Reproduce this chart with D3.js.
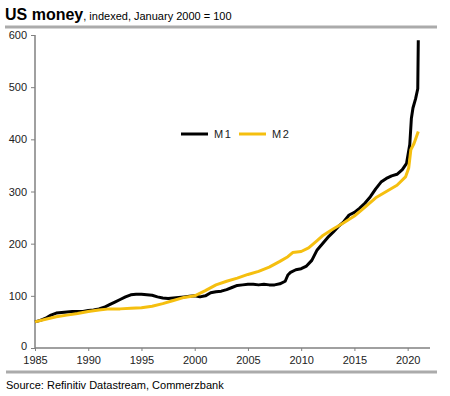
<!DOCTYPE html>
<html>
<head>
<meta charset="utf-8">
<script src="https://cdn.jsdelivr.net/npm/d3@7"></script>
<style>
body { margin: 0; background: #fff; font-family: "Liberation Sans", Arial, sans-serif; }
</style>
</head>
<body>
<div id="chart"></div>
<script>
// data (index, Jan 2000 = 100)
var m1_years = [1985, 1985.5, 1986, 1986.5, 1987, 1987.5, 1988, 1988.5, 1989, 1989.5,
    1990, 1990.5, 1991, 1991.5, 1992, 1992.5, 1993, 1993.5, 1994, 1994.5,
    1995, 1995.5, 1996, 1996.5, 1997, 1997.5, 1998, 1998.5, 1999, 1999.5,
    2000, 2000.5, 2001, 2001.5, 2002, 2002.5, 2003, 2003.5, 2004, 2004.5,
    2005, 2005.5, 2006, 2006.5, 2007, 2007.5, 2008, 2008.5, 2008.75, 2009, 2009.5,
    2010, 2010.5, 2011, 2011.5, 2012, 2012.5, 2013, 2013.5, 2014, 2014.5,
    2015, 2015.5, 2016, 2016.5, 2017, 2017.5, 2018, 2018.5, 2019, 2019.5,
    2019.9, 2020.2, 2020.35, 2020.5, 2020.75, 2020.95, 2021];
var m1_values = [50, 53, 57, 63, 67, 68, 69, 70, 70, 70,
    72, 73, 75, 78, 83, 88, 93, 98, 102, 103,
    103, 102, 101, 98, 96, 95, 96, 97, 98, 99,
    100, 98, 100, 106, 108, 109, 112, 116, 120, 121,
    122, 122, 121, 122, 121, 121, 123, 128, 140, 145, 150,
    152, 157, 168, 188, 200, 212, 222, 233, 242, 255,
    260, 268, 278, 290, 305, 318, 325, 330, 333, 342,
    354, 390, 440, 460, 478, 497, 590];

var m2_years = [1985, 1986, 1987, 1988, 1989, 1990, 1991, 1992, 1993, 1994,
    1995, 1996, 1997, 1998, 1999, 2000, 2001, 2002, 2003, 2004,
    2005, 2006, 2007, 2008, 2008.75, 2009.2, 2010, 2010.7, 2011.5, 2012,
    2013, 2014, 2015, 2016, 2017, 2018, 2019, 2019.8, 2020.1, 2020.3, 2020.6, 2021];
var m2_values = [50, 55, 60, 63, 66, 70, 73, 75, 75, 76,
    77, 80, 85, 91, 97, 100, 110, 121, 128, 134,
    141, 147, 155, 166, 175, 183, 185, 192, 206, 215,
    228, 240, 253, 270, 288, 300, 312, 328, 345, 380, 392, 415];

var x_ticks = [1985, 1990, 1995, 2000, 2005, 2010, 2015, 2020];
var y_ticks = [0, 100, 200, 300, 400, 500, 600];

const W = 450, H = 396;
var svg, xScale, yScale;

function setup() {
    svg = d3.select("#chart").append("svg")
        .attr("width", W)
        .attr("height", H);

    // title + subtitle
    var t = svg.append("text").attr("x", 5).attr("y", 20);
    t.append("tspan").attr("font-size", 16).attr("font-weight", "bold").text("US money");
    t.append("tspan").attr("font-size", 11).text(", indexed, January 2000 = 100");

    svg.append("line")
        .attr("x1", 5).attr("x2", 437).attr("y1", 27).attr("y2", 27)
        .style("stroke", "#ababab").style("stroke-width", 3);
    svg.append("line")
        .attr("x1", 6).attr("x2", 437).attr("y1", 372).attr("y2", 372)
        .style("stroke", "#ababab").style("stroke-width", 3);

    svg.append("text")
        .attr("x", 6).attr("y", 389)
        .attr("font-size", 11)
        .text("Source: Refinitiv Datastream, Commerzbank");
}

function build_axes() {
    xScale = d3.scaleLinear().domain([1985, 2022.1]).range([35, 430]);
    yScale = d3.scaleLinear().domain([0, 600]).range([348, 35]);

    var yAxis = d3.axisLeft(yScale).tickValues(y_ticks).tickSize(4).tickPadding(4);
    var xAxis = d3.axisBottom(xScale).tickValues(x_ticks).tickFormat(d3.format("d")).tickSize(3).tickPadding(5);

    var gy = svg.append("g")
        .attr("transform", "translate(35,0)")
        .call(yAxis);
    var gx = svg.append("g")
        .attr("transform", "translate(0,348)")
        .call(xAxis);

    [gx, gy].forEach(function(g) {
        g.select(".domain").style("stroke", "#808080").style("stroke-width", 1.5);
        g.selectAll(".tick line").style("stroke", "#808080");
        g.selectAll(".tick text")
            .style("font-family", "Liberation Sans, Arial, sans-serif")
            .style("font-size", "11px")
            .style("fill", "#222");
    });
    // "0" sits a little higher, clear of the 1985 label
    gy.selectAll(".tick text").filter(d => d === 0).attr("dy", "0.1em");
    // domains without outer end ticks
    gy.select(".domain").attr("d", "M0," + yScale(600) + "V" + yScale(0));
    gx.select(".domain").attr("d", "M" + xScale(1985) + ",0H" + xScale(2022.1));
}

function draw_lines() {
    var line = d3.line()
        .x(d => xScale(d[0]))
        .y(d => yScale(d[1]));

    var m1 = m1_years.map((y, i) => [y, m1_values[i]]);
    var m2 = m2_years.map((y, i) => [y, m2_values[i]]);

    svg.append("path")
        .datum(m1)
        .attr("d", line)
        .style("fill", "none")
        .style("stroke", "#000")
        .style("stroke-width", 3)
        .style("stroke-linejoin", "round");
    svg.append("path")
        .datum(m2)
        .attr("d", line)
        .style("fill", "none")
        .style("stroke", "#f5bf0f")
        .style("stroke-width", 3)
        .style("stroke-linejoin", "round");
}

function build_legend() {
    var items = [{name: "M1", color: "#000", x: 181}, {name: "M2", color: "#f5bf0f", x: 239}];
    var g = svg.append("g").attr("transform", "translate(0,134)");
    items.forEach(function(it) {
        g.append("line")
            .attr("x1", it.x).attr("x2", it.x + 27)
            .attr("y1", 0).attr("y2", 0)
            .style("stroke", it.color).style("stroke-width", 3);
        g.append("text")
            .attr("x", it.x + 33).attr("y", 4)
            .attr("font-size", 11)
            .attr("letter-spacing", 1.5)
            .style("fill", "#222")
            .text(it.name);
    });
}

setup();
build_axes();
draw_lines();
build_legend();
</script>
</body>
</html>
